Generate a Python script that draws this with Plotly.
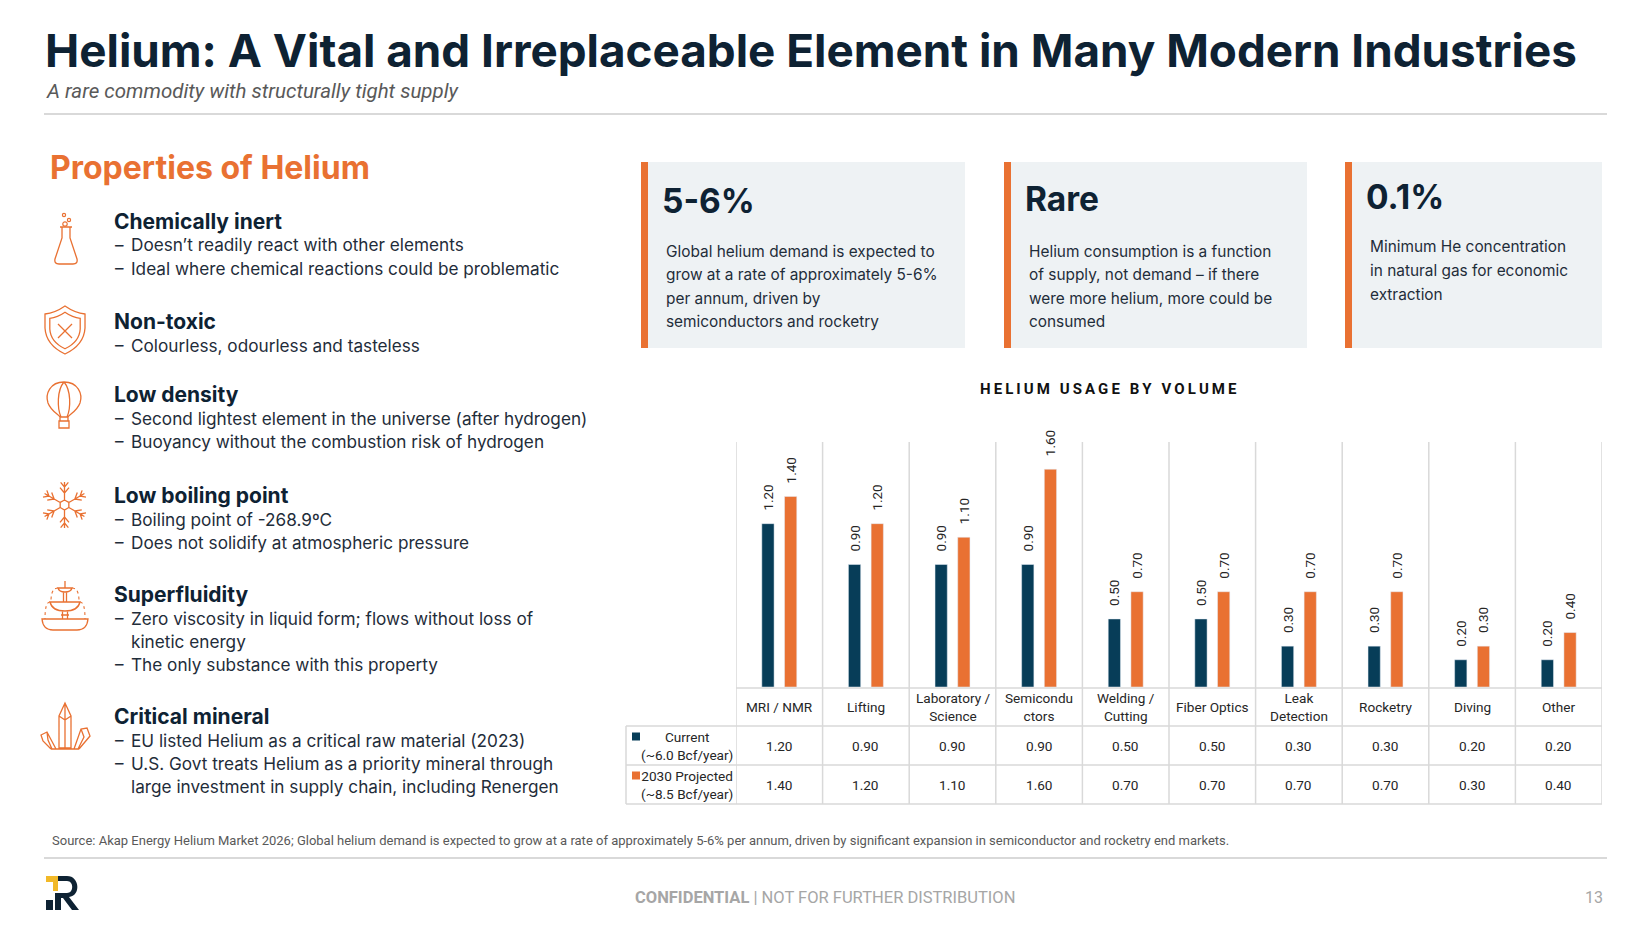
import math
import plotly.graph_objects as go

# ---- data ----
categories = ["MRI / NMR", "Lifting", "Laboratory / Science", "Semiconductors", "Welding / Cutting",
              "Fiber Optics", "Leak Detection", "Rocketry", "Diving", "Other"]
header_labels = ["MRI / NMR", "Lifting", "Laboratory /<br>Science", "Semicondu<br>ctors", "Welding /<br>Cutting",
                 "Fiber Optics", "Leak<br>Detection", "Rocketry", "Diving", "Other"]
current = [1.20, 0.90, 0.90, 0.90, 0.50, 0.50, 0.30, 0.30, 0.20, 0.20]
projected = [1.40, 1.20, 1.10, 1.60, 0.70, 0.70, 0.70, 0.70, 0.30, 0.40]
series_names = ["Current<br>(~6.0 Bcf/year)", "2030 Projected<br>(~8.5 Bcf/year)"]

properties = [
    ("Chemically inert", ["Doesn’t readily react with other elements",
                          "Ideal where chemical reactions could be problematic"]),
    ("Non-toxic", ["Colourless, odourless and tasteless"]),
    ("Low density", ["Second lightest element in the universe (after hydrogen)",
                     "Buoyancy without the combustion risk of hydrogen"]),
    ("Low boiling point", ["Boiling point of -268.9ºC",
                           "Does not solidify at atmospheric pressure"]),
    ("Superfluidity", ["Zero viscosity in liquid form; flows without loss of|kinetic energy",
                       "The only substance with this property"]),
    ("Critical mineral", ["EU listed Helium as a critical raw material (2023)",
                          "U.S. Govt treats Helium as a priority mineral through|large investment in supply chain, including Renergen"]),
]
kpis = [
    ("5-6%", ["Global helium demand is expected to", "grow at a rate of approximately 5-6%",
              "per annum, driven by", "semiconductors and rocketry"]),
    ("Rare", ["Helium consumption is a function", "of supply, not demand – if there",
              "were more helium, more could be", "consumed"]),
    ("0.1%", ["Minimum He concentration", "in natural gas for economic", "extraction"]),
]

# ---- colours / fonts ----
NAVY = "#073D58"
ORANGE = "#E97132"
DARK = "#0E2233"
TEXT = "#1F2D3A"
GRID = "#D9D9D9"
FONT = "Roboto"
SLIDE = "Inter"

W, H = 1650, 938


def X(p):
    return p / W


def Y(p):
    return 1 - p / H


fig = go.Figure()

fig.add_trace(go.Bar(x=categories, y=current, name="Current", marker_color=NAVY,
                     text=["\u00a0\u00a0\u00a0" + f"{v:.2f}" for v in current],
                     textposition="outside", textangle=-90, constraintext="none",
                     textfont=dict(size=13.5, color="#262626", family=FONT), cliponaxis=False))
fig.add_trace(go.Bar(x=categories, y=projected, name="2030 Projected", marker_color=ORANGE,
                     text=["\u00a0\u00a0\u00a0" + f"{v:.2f}" for v in projected],
                     textposition="outside", textangle=-90, constraintext="none",
                     textfont=dict(size=13.5, color="#262626", family=FONT), cliponaxis=False))

shapes = []
ann = []


def txt(x, y, s, size, color=TEXT, bold=False, italic=False, xanchor="left", family=FONT, xref="paper"):
    ann.append(dict(x=x if xref != "paper" else X(x), y=Y(y), xref=xref, yref="paper", text=s,
                    showarrow=False, xanchor=xanchor, yanchor="middle",
                    font=dict(size=size, color=color, family=family,
                              weight="bold" if bold else "normal",
                              style="italic" if italic else "normal")))


def line(x0, y0, x1, y1, color=GRID, width=1.5, xref="paper"):
    shapes.append(dict(type="line", xref=xref, yref="paper",
                       x0=x0 if xref != "paper" else X(x0), x1=x1 if xref != "paper" else X(x1),
                       y0=Y(y0), y1=Y(y1), line=dict(color=color, width=width)))


def rect(x0, y0, x1, y1, fill, layer="below"):
    shapes.append(dict(type="rect", xref="paper", yref="paper", x0=X(x0), x1=X(x1), y0=Y(y0), y1=Y(y1),
                       fillcolor=fill, line=dict(width=0), layer=layer))


def icon(cmds, cx, cy, dash="solid", width=1.3):
    out = []
    for c in cmds:
        op = c[0]
        pts = c[1:]
        coords = []
        for i in range(0, len(pts), 2):
            coords.append(f"{X(cx + pts[i]):.5f},{Y(cy + pts[i + 1]):.5f}")
        out.append(op + " " + " ".join(coords))
    shapes.append(dict(type="path", xref="paper", yref="paper", path=" ".join(out),
                       line=dict(color=ORANGE, width=width, dash=dash)))


def circ(cx, cy, r):
    shapes.append(dict(type="circle", xref="paper", yref="paper", x0=X(cx - r), x1=X(cx + r),
                       y0=Y(cy - r), y1=Y(cy + r), line=dict(color=ORANGE, width=1.2)))


# ---- header ----
txt(43, 51, "Helium: A Vital and Irreplaceable Element in Many Modern Industries", 45.8, DARK, bold=True,
    family=SLIDE)
txt(44, 91, "A rare commodity with structurally tight supply", 20.5, "#595959", italic=True)
line(44, 114, 1607, 114, "#D9D9D9", 2)

# ---- properties ----
txt(48, 168, "Properties of Helium", 32, ORANGE, bold=True, family=SLIDE)
head_y = [221, 321, 394, 495, 594, 716]
for (head, bullets), hy in zip(properties, head_y):
    txt(112, hy, head, 21, DARK, bold=True, family=SLIDE)
    yy = hy + 24
    for b in bullets:
        parts = b.split("|")
        txt(113, yy, "–", 17, TEXT, family=SLIDE)
        for p in parts:
            txt(128.5, yy, p, 17.2, TEXT, family=SLIDE)
            yy += 23

# icons
icon([("M", -6, -11), ("L", 6, -11), ("M", -4, -11), ("L", -4, 0), ("L", -11, 21), ("Q", -12, 26, -7, 26),
      ("L", 7, 26), ("Q", 12, 26, 11, 21), ("L", 4, 0), ("L", 4, -11)], 66, 238)
circ(65, 224, 2.2)
circ(69, 220, 1.6)
circ(64, 215, 1.6)

shield = [("M", 0, -24), ("Q", 10, -17, 20, -16), ("L", 20, -2), ("Q", 19, 15, 0, 24),
          ("Q", -19, 15, -20, -2), ("L", -20, -16), ("Q", -10, -17, 0, -24), ("Z",)]
icon(shield, 65, 330)
icon([(c[0],) + tuple(v * 0.76 for v in c[1:]) for c in shield], 65, 330.5)
icon([("M", -7, -6), ("L", 7, 8), ("M", 7, -6), ("L", -7, 8)], 65, 330)

icon([("M", 0, -22), ("C", 14, -22, 19, -10, 16, -1), ("C", 13, 7, 6, 10, 4, 13), ("L", -4, 13),
      ("C", -6, 10, -13, 7, -16, -1), ("C", -19, -10, -14, -22, 0, -22), ("Z",),
      ("M", 0, -22), ("C", 7, -14, 7, 4, 3, 13), ("M", 0, -22), ("C", -7, -14, -7, 4, -3, 13),
      ("M", -4, 13), ("L", -4, 17), ("M", 4, 13), ("L", 4, 17),
      ("M", -5, 17), ("L", 5, 17), ("L", 5, 24), ("L", -5, 24), ("Z",)], 64, 404)

flake = []
for k in range(6):
    a = math.radians(90 + 60 * k)
    ca, sa = math.cos(a), math.sin(a)
    flake += [("M", 5 * ca, -5 * sa), ("L", 23 * ca, -23 * sa)]
    for d, ln in ((12, 7), (18, 6)):
        bx, by = d * ca, -d * sa
        for s in (1, -1):
            b = a + s * math.radians(40)
            flake += [("M", bx, by), ("L", bx + ln * math.cos(b), by - ln * math.sin(b))]
hexa = []
for k in range(7):
    a = math.radians(90 + 60 * k)
    hexa.append(("M" if k == 0 else "L", 5 * math.cos(a), -5 * math.sin(a)))
icon(flake + hexa, 64.5, 505, width=1.3)

icon([("M", -23, 13), ("L", 23, 13), ("Q", 22, 24, 12, 24), ("L", -12, 24), ("Q", -22, 24, -23, 13), ("Z",),
      ("M", -2.5, 5), ("L", -2.5, 13), ("M", 2.5, 5), ("L", 2.5, 13), ("M", -4, 9), ("L", 4, 9),
      ("M", -15, -4), ("L", 15, -4), ("Q", 13, 5, 0, 5), ("Q", -13, 5, -15, -4), ("Z",),
      ("M", -1.5, -14), ("L", -1.5, -4), ("M", 1.5, -14), ("L", 1.5, -4),
      ("M", -7, -18), ("L", 7, -18), ("Q", 6, -14, 0, -14), ("Q", -6, -14, -7, -18), ("Z",),
      ("M", 0, -18), ("L", 0, -25)], 65, 606)
icon([("M", -7, -18), ("Q", -14, -18, -14, -5), ("M", 7, -18), ("Q", 14, -18, 14, -5),
      ("M", -15, -4), ("Q", -20, -4, -20, 13), ("M", 15, -4), ("Q", 20, -4, 20, 13)], 65, 606, dash="dot", width=1.1)

icon([("M", -6, 22), ("L", -6, -10), ("L", 0, -23), ("L", 6, -10), ("L", 6, 22), ("Z",),
      ("M", 0, -23), ("L", 0, 22), ("M", -6, -10), ("L", 0, -6), ("L", 6, -10),
      ("M", -9, 23), ("L", -18, 6), ("L", -24, 9), ("L", -22, 15), ("L", -14, 23),
      ("M", -18, 6), ("L", -17, 14), ("L", -13, 23),
      ("M", 9, 23), ("L", 16, 3), ("L", 22, 2), ("L", 25, 10), ("L", 14, 23),
      ("M", 16, 3), ("L", 19, 11), ("L", 13, 23),
      ("M", -14, 23), ("L", 14, 23)], 65, 726)

# ---- KPI boxes ----
boxes = [(641, 965), (1004, 1307), (1345, 1602)]
big_y = [201, 199, 197]
body_y0 = [251, 251, 247]
for (k_big, k_lines), (bx0, bx1), by, ly in zip(kpis, boxes, big_y, body_y0):
    rect(bx0, 162, bx1, 348, "#EEF2F4")
    rect(bx0, 162, bx0 + 7, 348, ORANGE)
    txt(bx0 + 19, by, k_big, 33.5, DARK, bold=True, family=SLIDE)
    for i, s in enumerate(k_lines):
        txt(bx0 + 23, ly + i * 23.6, s, 15.4, TEXT, family=SLIDE)

# ---- chart ----
txt(1108, 389, "\u2009".join("HELIUM USAGE BY VOLUME"), 15, "#111111", bold=True, xanchor="center")

tbl_top, row1, row2, tbl_bot = 688, 726, 765, 804
for i in range(len(categories) + 1):
    line(i - 0.5, tbl_bot, i - 0.5, 442, xref="x")
line(626, row1, 626, tbl_bot)
line(-0.5, tbl_top, 9.5, tbl_top, xref="x")
for yy in (row1, row2, tbl_bot):
    line(626, yy, 1602, yy)

for c, lab, v1, v2 in zip(categories, header_labels, current, projected):
    txt(c, (tbl_top + row1) / 2, lab, 13.6, "#262626", xanchor="center", xref="x")
    txt(c, (row1 + row2) / 2, f"{v1:.2f}", 13.6, "#262626", xanchor="center", xref="x")
    txt(c, (row2 + tbl_bot) / 2, f"{v2:.2f}", 13.6, "#262626", xanchor="center", xref="x")

for name, color, (r0, r1) in zip(series_names, [NAVY, ORANGE], [(row1, row2), (row2, tbl_bot)]):
    ym = (r0 + r1) / 2
    rect(632, ym - 13, 640, ym - 5, color, layer="above")
    txt(687, ym, name, 13.6, "#262626", xanchor="center")

# ---- footer ----
txt(50, 840, "Source: Akap Energy Helium Market 2026; Global helium demand is expected to grow at a rate of "
             "approximately 5-6% per annum, driven by significant expansion in semiconductor and rocketry end markets.",
    13, "#595959")
line(44, 858, 1607, 858, "#D9D9D9", 2)
txt(825, 897, "<b>CONFIDENTIAL</b> | NOT FOR FURTHER DISTRIBUTION", 16.5, "#A6A6A6", xanchor="center")
txt(1605, 897, "13", 16, "#A6A6A6", xanchor="right")

# logo
shapes.append(dict(type="path", xref="paper", yref="paper",
                   path=f"M {X(46)},{Y(876)} L {X(58)},{Y(876)} L {X(58)},{Y(891)} L {X(53)},{Y(891)} "
                        f"L {X(53)},{Y(882)} L {X(46)},{Y(882)} Z",
                   fillcolor="#F2B928", line=dict(width=0)))
rect(46, 900, 53, 910, DARK, layer="above")
shapes.append(dict(type="path", xref="paper", yref="paper",
                   path=f"M {X(58)},{Y(876)} L {X(67)},{Y(876)} C {X(80)},{Y(876)} {X(81)},{Y(896)} {X(69)},{Y(897)} "
                        f"L {X(79)},{Y(910)} L {X(72)},{Y(910)} L {X(63)},{Y(898)} L {X(61)},{Y(898)} "
                        f"L {X(61)},{Y(910)} L {X(55)},{Y(910)} L {X(55)},{Y(893)} L {X(67)},{Y(893)} "
                        f"C {X(74)},{Y(893)} {X(74)},{Y(881)} {X(67)},{Y(881)} L {X(58)},{Y(881)} Z",
                   fillcolor=DARK, line=dict(width=0)))

fig.update_layout(
    width=W, height=H, margin=dict(l=0, r=0, t=0, b=0),
    paper_bgcolor="white", plot_bgcolor="white",
    barmode="group", bargap=0.476, bargroupgap=0.46, showlegend=False,
    font=dict(family=FONT, color=TEXT),
    xaxis=dict(domain=[X(736), X(1602)], range=[-0.5, 9.5], showticklabels=False, showgrid=False,
               zeroline=False, showline=False, fixedrange=True),
    yaxis=dict(domain=[Y(687), Y(442)], range=[0, 1.8], showticklabels=False, showgrid=False,
               zeroline=False, showline=False, fixedrange=True),
    shapes=shapes, annotations=ann,
)

# page has a default 8px body margin; remove it so the slide sits at the window origin
fig.write_html("out.html", config={"displayModeBar": False},
               post_script="document.body.style.margin='0';")
